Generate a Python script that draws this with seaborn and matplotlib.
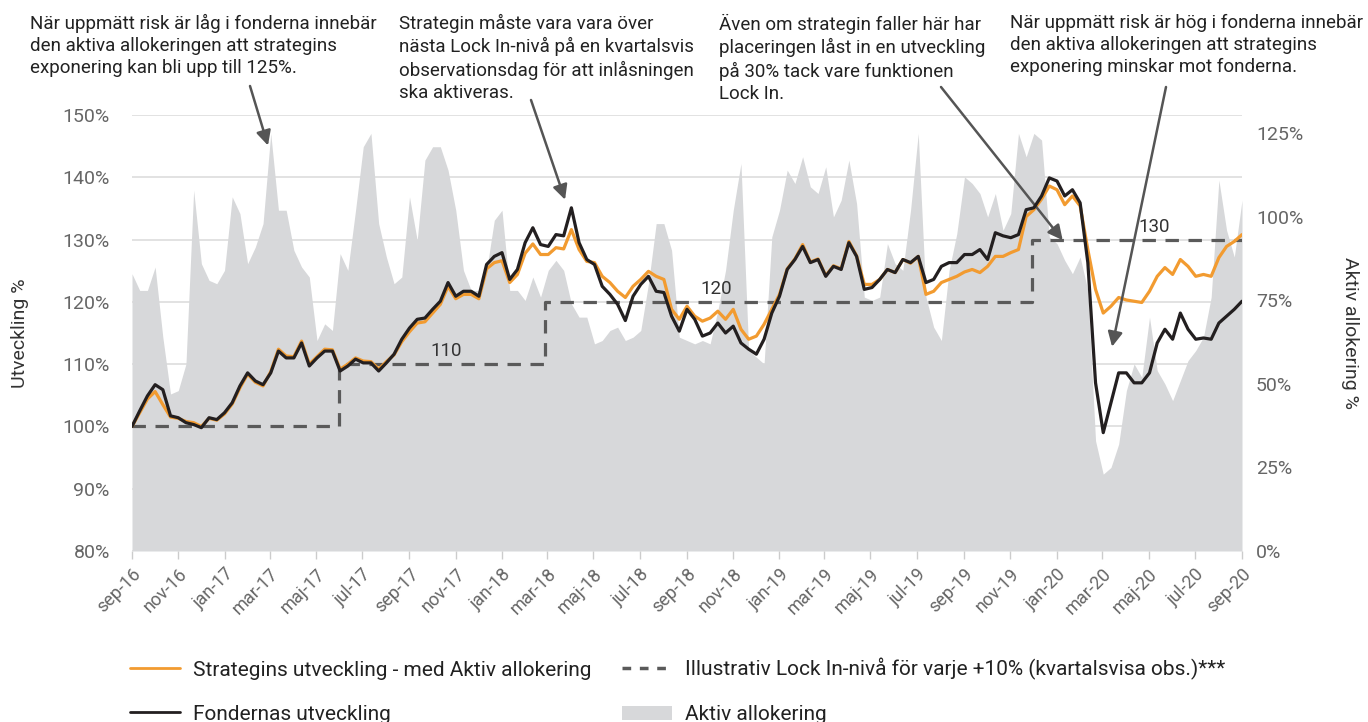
import numpy as np
import pandas as pd
import matplotlib
matplotlib.use("Agg")
import matplotlib.pyplot as plt
from matplotlib.lines import Line2D
from matplotlib.patches import Patch
import seaborn as sns

# --- data (~3 obs per month) ---
dates = pd.date_range("2016-09-01", "2020-09-01", periods=145)

fund = [100.0, 102.5, 104.9, 106.7, 105.9, 101.7, 101.4, 100.6, 100.3, 99.8,
        101.4, 101.1, 102.2, 103.8, 106.5, 108.6, 107.3, 106.7, 108.6, 112.1,
        111.0, 111.0, 113.4, 109.7, 111.0, 112.1, 112.1, 108.9, 109.7, 110.8,
        110.2, 110.2, 108.9, 110.2, 111.6, 114.0, 115.8, 117.2, 117.4, 118.8,
        120.1, 123.1, 120.9, 121.7, 121.7, 120.9, 126.0, 127.3, 127.9, 123.6,
        125.2, 129.5, 131.9, 129.2, 128.9, 130.8, 130.6, 135.1, 129.5, 126.8,
        126.0, 122.5, 121.2, 119.6, 117.0, 120.9, 122.8, 124.1, 121.7, 121.5,
        117.7, 115.3, 118.8, 117.2, 114.5, 115.0, 116.6, 115.0, 116.1, 113.4,
        112.4, 111.6, 114.0, 118.2, 120.9, 125.2, 126.8, 128.9, 126.3, 126.8,
        124.1, 125.7, 125.2, 129.5, 127.3, 122.0, 122.3, 123.6, 125.2, 124.7,
        126.8, 126.3, 127.3, 123.1, 123.6, 125.7, 126.3, 126.3, 127.6, 127.6,
        128.4, 126.8, 131.1, 130.6, 130.3, 130.8, 134.8, 135.1, 137.0, 139.9,
        139.4, 137.0, 138.0, 135.9, 126.3, 107.0, 99.0, 103.8, 108.6, 108.6,
        107.0, 107.0, 108.6, 113.4, 115.6, 114.0, 118.2, 115.6, 114.0, 114.2,
        114.0, 116.6, 117.7, 118.8, 120.1]

strategy = [100.0, 102.2, 104.4, 105.6, 103.5, 101.5, 101.3, 100.8, 100.6, 100.0,
            101.3, 101.0, 102.0, 103.6, 106.2, 108.4, 107.1, 106.5, 108.8, 112.4,
            111.3, 111.2, 113.7, 110.0, 111.2, 112.4, 112.3, 109.2, 110.0, 111.0,
            110.5, 110.4, 109.2, 110.4, 111.5, 113.6, 115.2, 116.6, 116.8, 118.2,
            119.6, 122.5, 120.5, 121.2, 121.2, 120.5, 125.3, 126.3, 126.6, 123.1,
            124.4, 127.8, 129.3, 127.6, 127.6, 128.7, 128.5, 131.6, 128.4, 126.5,
            126.3, 124.1, 123.1, 121.7, 120.7, 122.5, 123.6, 124.9, 124.1, 123.6,
            118.8, 117.2, 119.3, 117.7, 116.9, 117.4, 118.5, 117.2, 118.8, 115.6,
            114.0, 114.5, 116.4, 118.8, 121.2, 125.3, 126.9, 129.2, 126.4, 126.9,
            124.2, 125.8, 125.3, 129.7, 127.4, 122.8, 122.8, 123.6, 125.2, 124.7,
            126.8, 126.2, 127.3, 121.2, 121.7, 123.1, 123.6, 124.1, 124.8, 125.2,
            124.7, 125.7, 127.3, 127.3, 127.9, 128.4, 133.7, 134.8, 136.5, 138.6,
            138.0, 135.6, 137.0, 135.4, 128.4, 122.0, 118.2, 119.3, 120.7, 120.3,
            120.1, 119.9, 121.7, 124.1, 125.5, 124.4, 126.8, 125.7, 124.1, 124.4,
            124.1, 127.1, 128.9, 129.7, 130.8]

alloc = [83, 78, 78, 85, 64, 47, 48, 56, 108, 86,
         81, 80, 84, 106, 101, 86, 91, 98, 125, 102,
         102, 90, 85, 82, 63, 68, 66, 89, 84, 102,
         121, 125, 98, 88, 80, 82, 106, 93, 117, 121,
         121, 114, 102, 84, 78, 78, 84, 99, 102, 78,
         78, 75, 82, 76, 84, 87, 84, 74, 70, 70,
         62, 63, 66, 67, 63, 64, 66, 80, 98, 98,
         90, 64, 63, 62, 63, 62, 72, 84, 102, 116,
         60, 58, 56, 94, 102, 114, 110, 118, 109, 107,
         115, 100, 105, 117, 104, 76, 75, 76, 92, 86,
         84, 102, 125, 76, 67, 63, 84, 95, 112, 110,
         107, 100, 107, 96, 101, 125, 118, 125, 123, 94,
         92, 87, 83, 88, 78, 33, 23, 25, 32, 48,
         56, 52, 70, 54, 50, 45, 51, 57, 60, 64,
         76, 111, 96, 88, 105]

lock_dates = pd.to_datetime(["2016-09-01", "2017-06-01", "2018-02-26", "2019-11-29", "2020-09-01"])
lock_levels = [100, 110, 120, 130, 130]
lock_text = ["110", "120", "130"]
lock_text_dates = pd.to_datetime(["2017-10-20", "2018-10-10", "2020-05-09"])
lock_text_y = [110.6, 120.6, 130.6]

tick_dates = pd.date_range("2016-09-01", "2020-09-01", freq="2MS")
tick_labels = ["sep-16", "nov-16", "jan-17", "mar-17", "maj-17", "jul-17", "sep-17",
               "nov-17", "jan-18", "mar-18", "maj-18", "jul-18", "sep-18", "nov-18",
               "jan-19", "mar-19", "maj-19", "jul-19", "sep-19", "nov-19", "jan-20",
               "mar-20", "maj-20", "jul-20", "sep-20"]

notes = [
    "När uppmätt risk är låg i fonderna innebär\nden aktiva allokeringen att strategins\nexponering kan bli upp till 125%.",
    "Strategin måste vara vara över\nnästa Lock In-nivå på en kvartalsvis\nobservationsdag för att inlåsningen\nska aktiveras.",
    "Även om strategin faller här har\nplaceringen låst in en utveckling\npå 30% tack vare funktionen\nLock In.",
    "När uppmätt risk är hög i fonderna innebär\nden aktiva allokeringen att strategins\nexponering minskar mot fonderna.",
]
note_x_px = [30, 399, 719, 1010]
arrow_tip_dates = pd.to_datetime(["2017-02-27", "2018-03-25", "2020-01-09", "2020-03-14"])
arrow_tip_vals = [145.1, 136.4, 129.9, 112.8]
arrow_start_px = [(250, 86), (531, 100), (941, 87), (1166, 87)]

ORANGE = "#f29b30"
BLACK = "#231f20"
GREY = "#d7d8da"
DASH = "#5a5a5a"

sns.set_theme(style="white")
plt.rcParams["font.family"] = ["Roboto", "DejaVu Sans"]

fig = plt.figure(figsize=(13.68, 7.22), dpi=100)
ax = fig.add_axes([132 / 1368, 1 - 551 / 722, 1110 / 1368, 436 / 722])
ax_alloc = ax.twinx()
ax.set_zorder(ax_alloc.get_zorder() + 1)
ax.patch.set_visible(False)

# grey allocation area + gridlines behind it
ax_alloc.hlines(np.arange(80, 151, 10), 0, 1, transform=ax.get_yaxis_transform(),
                color="#dddddd", lw=1.2, zorder=0)
ax_alloc.fill_between(dates, alloc, 0, color=GREY, lw=0, zorder=1)
ax_alloc.set_ylim(0, 130.5)
ax_alloc.set_yticks([0, 25, 50, 75, 100, 125])
ax_alloc.set_yticklabels([f"{v}%" for v in [0, 25, 50, 75, 100, 125]])

# lock-in steps and lines
ax.plot(lock_dates, lock_levels, drawstyle="steps-post", color=DASH, lw=2.3,
        dashes=(4.2, 3.0), zorder=2)
sns.lineplot(x=dates, y=strategy, ax=ax, color=ORANGE, linewidth=2.3, zorder=3)
sns.lineplot(x=dates, y=fund, ax=ax, color=BLACK, linewidth=2.3, zorder=4)
for d, y, t in zip(lock_text_dates, lock_text_y, lock_text):
    ax.text(d, y, t, ha="center", va="bottom", fontsize=13.5, color="#333333")

ax.set_xlim(tick_dates[0], tick_dates[-1])
ax.set_ylim(80, 150)
ax.set_yticks(np.arange(80, 151, 10))
ax.set_yticklabels([f"{v}%" for v in range(80, 151, 10)])
ax.set_xticks(tick_dates)
ax.set_xticklabels(tick_labels, rotation=45, ha="right", rotation_mode="anchor")
ax.tick_params(axis="x", length=6, width=1, color="#cccccc", labelsize=13,
               labelcolor="#666666", pad=4, direction="out", bottom=True)
ax.tick_params(axis="y", length=0, labelsize=14, labelcolor="#666666", pad=16)
ax_alloc.tick_params(axis="y", length=0, labelsize=14, labelcolor="#666666", pad=10)
for a in (ax, ax_alloc):
    for s in a.spines.values():
        s.set_visible(False)

ax.set_xlabel("")
ax.set_ylabel("Utveckling %", fontsize=14, color="#333333")
ax.yaxis.set_label_coords(-112 / 1110, 0.5)
ax.yaxis.label.set(ha="center", va="center")
ax_alloc.set_ylabel("Aktiv allokering %", fontsize=14, color="#333333", rotation=270)
ax_alloc.yaxis.set_label_coords(1218 / 1110, 0.5)
ax_alloc.yaxis.label.set(ha="center", va="center")

# annotations
for txt, px in zip(notes, note_x_px):
    fig.text(px / 1368, 1 - 14 / 722, txt, ha="left", va="top", fontsize=13.5,
             color="#222222", linespacing=1.28)
for d, v, (sx, sy) in zip(arrow_tip_dates, arrow_tip_vals, arrow_start_px):
    ax.annotate("", xy=(d, v), xycoords="data", xytext=(sx, 722 - sy),
                textcoords="figure pixels", annotation_clip=False,
                arrowprops=dict(arrowstyle="-|>", color="#555555", lw=1.8,
                                mutation_scale=22, shrinkA=0, shrinkB=0))

handles = [
    Line2D([], [], color=ORANGE, lw=2),
    Line2D([], [], color=BLACK, lw=2),
    Line2D([], [], color=DASH, lw=2.5, dashes=(2.5, 2.5)),
    Patch(facecolor=GREY, edgecolor="none"),
]
labels = [
    "Strategins utveckling - med Aktiv allokering",
    "Fondernas utveckling",
    "Illustrativ Lock In-nivå för varje +10% (kvartalsvisa obs.)***",
    "Aktiv allokering",
]
fig.legend(handles, labels, loc="upper left", bbox_to_anchor=(130 / 1368, 1 - 658 / 722),
           ncol=2, frameon=False, fontsize=15, handlelength=2.4, handletextpad=0.62,
           columnspacing=1.45, labelspacing=1.2, borderpad=0, borderaxespad=0,
           labelcolor="#222222")

fig.savefig("out.png", dpi=100)
